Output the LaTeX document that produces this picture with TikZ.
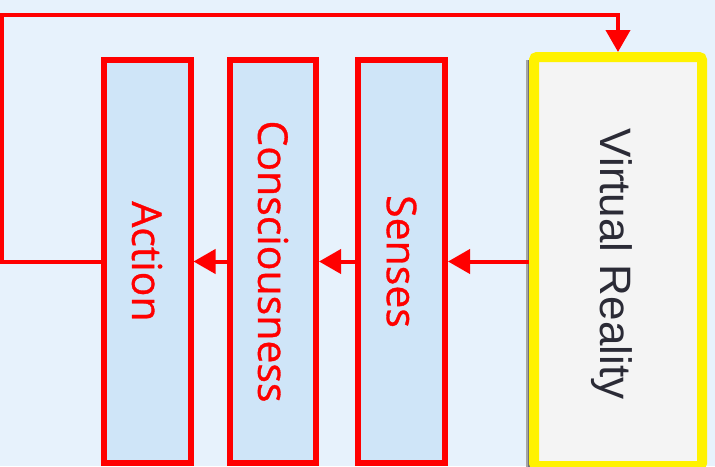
\documentclass[tikz,border=0pt]{standalone}
\usepackage{fontspec}
\setmainfont{Open Sans}
\newfontfamily\stagefont[FakeBold=0.8]{Open Sans}
\newfontfamily\vrfont{Liberation Sans}
\usetikzlibrary{arrows.meta}
\definecolor{bg}{HTML}{E7F2FC}
\definecolor{boxfill}{HTML}{CFE5F8}
\definecolor{vrfill}{HTML}{F4F4F4}
\definecolor{vrtext}{HTML}{2B2B36}
\begin{document}
\begin{tikzpicture}[x=1pt,y=-1pt,
  stage/.style={draw=red, line width=6pt, fill=boxfill, rectangle, minimum width=87pt, minimum height=403pt, inner sep=0pt},
  stagelabel/.style={rotate=-90, text=red, font=\stagefont\fontsize{41}{49}\selectfont, inner sep=0pt},
  flow/.style={draw=red, line width=4pt, -{Triangle[length=22pt,width=24pt]}},
]
\fill[bg] (0,0) rectangle (715,466);
\useasboundingbox (0,0) rectangle (715,466);

\node[stage] (action) at (147,261.5) {};
\node[stage, minimum width=86pt] (consc) at (273,261.5) {};
\node[stage] (senses) at (401.5,261.5) {};

\fill[black!35] (526,60) rectangle (534,470);
\fill[black!55] (528,60) rectangle (534,470);
\node[draw=yellow, line width=10pt, fill=vrfill, rounded corners=3pt, minimum width=168pt, minimum height=409pt, inner sep=0pt] (vr) at (618,261.5) {};

\node[stagelabel] (actionlabel) at (action.center) {Action};
\node[stagelabel] (consclabel) at (consc.center) {Consciousness};
\node[stagelabel] (senseslabel) at (senses.center) {Senses};
\node[rotate=-90, text=vrtext, font=\vrfont\fontsize{44}{52}\selectfont, inner sep=0pt] (vrlabel) at (612,264) {Virtual Reality};

\draw[flow] (vr.west) -- (senses.east);
\draw[flow] (senses.west) -- (consc.east);
\draw[flow] (consc.west) -- (action.east);

\coordinate (loopcorner) at (2,15);
\draw[flow] (action.west) -| (loopcorner) -| (vr.north);
\end{tikzpicture}
\end{document}
